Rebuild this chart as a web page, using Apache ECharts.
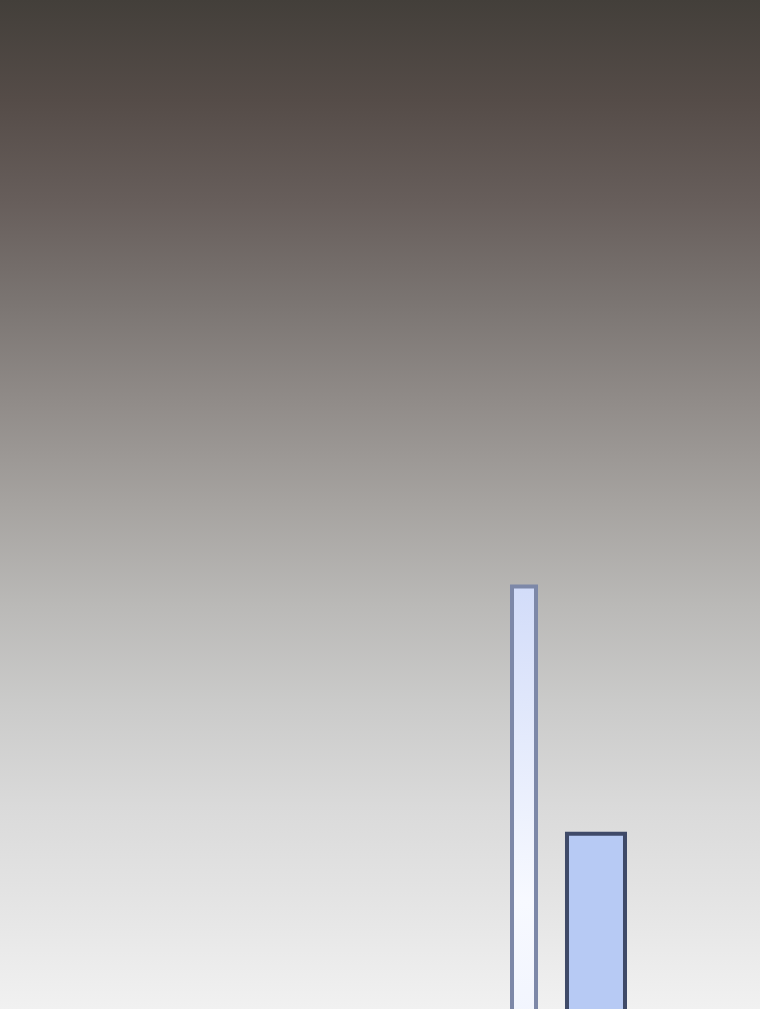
<!DOCTYPE html>
<html>
<head>
<meta charset="utf-8">
<script src="https://cdn.jsdelivr.net/npm/echarts@6/dist/echarts.min.js"></script>
<style>
html,body{margin:0;padding:0;width:760px;height:1009px;overflow:hidden;}
#chart{width:760px;height:1109px;}
</style>
</head>
<body>
<div id="chart"></div>
<script>
const categories = ['A'];
const seriesNames = ['Series 1', 'Series 2'];
const series1Values = [47.3];
const series2Values = [25.0];

// visible part is the top 1009 of a 1109 px tall chart
const k = 1009 / 1109;
const chart = echarts.init(document.getElementById('chart'), null, {renderer: 'canvas'});
const option = {
  animation: false,
  backgroundColor: new echarts.graphic.LinearGradient(0, 0, 0, 1, [
    {offset: 0, color: '#433f3a'},
    {offset: 0.1 * k, color: '#554c48'},
    {offset: 0.2 * k, color: '#675e5b'},
    {offset: 0.3 * k, color: '#7b7572'},
    {offset: 0.4 * k, color: '#918c89'},
    {offset: 0.5 * k, color: '#a6a3a0'},
    {offset: 0.6 * k, color: '#bab9b7'},
    {offset: 0.7 * k, color: '#cbcbca'},
    {offset: 0.8 * k, color: '#dadada'},
    {offset: 0.9 * k, color: '#e5e5e5'},
    {offset: k, color: '#f1f1f1'},
    {offset: 1, color: '#f1f1f1'}
  ]),
  grid: {left: 377, right: 0, top: 0, bottom: 0, containLabel: false},
  xAxis: {type: 'category', data: categories, show: false},
  yAxis: {type: 'value', min: 0, max: 100, show: false},
  series: [
    {
      name: seriesNames[0],
      type: 'bar',
      data: series1Values,
      barWidth: 28,
      barGap: '96.4%',
      itemStyle: {
        color: new echarts.graphic.LinearGradient(0, 0, 0, 1, [
          {offset: 0, color: '#d2dcf9'},
          {offset: 0.6, color: '#f7f9ff'},
          {offset: 1, color: '#eef2fd'}
        ]),
        borderColor: '#7d88a8',
        borderWidth: 4
      }
    },
    {
      name: seriesNames[1],
      type: 'bar',
      data: series2Values,
      barWidth: 62,
      itemStyle: {
        color: '#b7caf4',
        borderColor: '#3f4a68',
        borderWidth: 4
      }
    }
  ]
};
chart.setOption(option);
</script>
</body>
</html>
